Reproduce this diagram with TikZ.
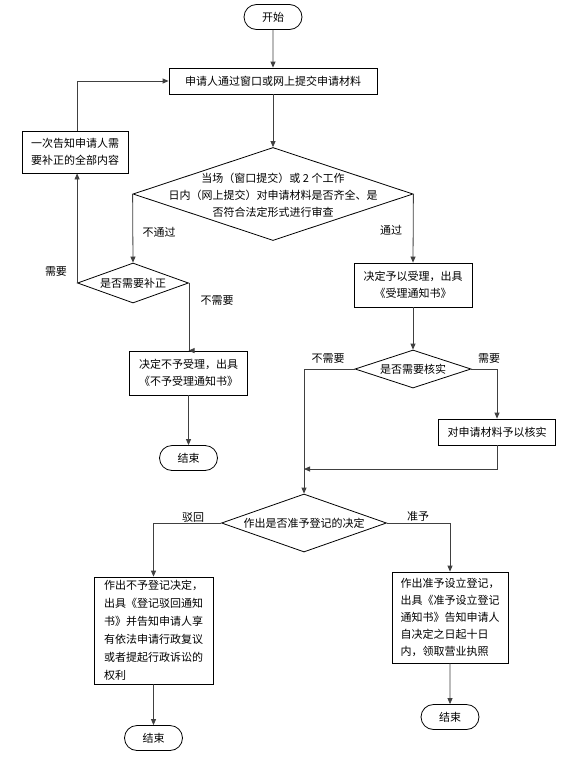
\documentclass[tikz,border=0pt]{standalone}
\usepackage{fontspec}
\setmainfont{Noto Sans CJK SC}
\usetikzlibrary{shapes.geometric,shapes.misc,arrows.meta}
\begin{document}
\begin{tikzpicture}[x=1pt,y=-1pt,
  every node/.style={font=\fontsize{11}{17}\selectfont},
  box/.style={draw=black, line width=0.8pt, inner sep=0pt, align=center},
  lbox/.style={draw=black, line width=0.8pt, inner sep=0pt, align=left},
  term/.style={draw=black, line width=0.8pt, rounded rectangle, minimum width=58pt, minimum height=25pt, inner sep=0pt},
  dia/.style={draw=black, line width=0.8pt, diamond, inner sep=0pt},
  txt/.style={inner sep=0pt, align=center},
  lab/.style={inner sep=0pt},
  conn/.style={draw=black!75, line width=0.8pt, -{Triangle[length=6pt,width=5pt]}},
  plain/.style={draw=black!75, line width=0.8pt}]
\useasboundingbox (0,0) rectangle (561,774);
\fill[white] (0,0) rectangle (561,774);

% nodes
\node[term] (start) at (273,17) {开始};
\node[box, minimum width=208pt, minimum height=26pt] (b1) at (273,81) {申请人通过窗口或网上提交申请材料};
\node[dia, minimum width=280pt, minimum height=93pt] (d1) at (273,194) {};
\node[txt] (d1t) at (273,195) {当场（窗口提交）或 2 个工作\\日内（网上提交）对申请材料是否齐全、是\\否符合法定形式进行审查};
\node[box, minimum width=106pt, minimum height=42pt] (notify) at (75,152) {一次告知申请人需\\要补正的全部内容};
\node[dia, minimum width=111pt, minimum height=40pt] (d2) at (133,283) {};
\node[txt] (d2t) at (133,283) {是否需要补正};
\node[box, minimum width=118pt, minimum height=44pt] (nb) at (188.5,373) {决定不予受理，出具\\《不予受理通知书》};
\node[term] (end1) at (188.5,458) {结束};

\node[box, minimum width=118pt, minimum height=44pt] (ac) at (413,285) {决定予以受理，出具\\《受理通知书》};
\node[dia, minimum width=116pt, minimum height=38pt] (d3) at (413,369) {};
\node[txt] (d3t) at (413,369) {是否需要核实};
\node[box, minimum width=117pt, minimum height=26pt] (ver) at (497,432) {对申请材料予以核实};
\coordinate (mrg) at (304,469);

\node[dia, minimum width=165pt, minimum height=58pt] (d4) at (304,523) {};
\node[txt] (d4t) at (304,523) {作出是否准予登记的决定};
\node[lbox, minimum width=119pt, minimum height=107pt, font=\fontsize{11}{18}\selectfont] (rej) at (153.5,630.5) {作出不予登记决定，\\出具《登记驳回通知\\书》并告知申请人享\\有依法申请行政复议\\或者提起行政诉讼的\\权利};
\node[term] (end2) at (153.5,738) {结束};
\node[lbox, minimum width=116pt, minimum height=91pt] (acc) at (450,617.5) {作出准予设立登记，\\出具《准予设立登记\\通知书》告知申请人\\自决定之日起十日\\内，领取营业执照};
\node[term] (end3) at (450,717) {结束};

% labels
\node[lab] (l1) at (159,232) {不通过};
\node[lab] (l2) at (56,272) {需要};
\node[lab] (l3) at (217,301) {不需要};
\node[lab] (l4) at (391,230) {通过};
\node[lab] (l5) at (328,359) {不需要};
\node[lab] (l6) at (489,359) {需要};
\node[lab] (l7) at (193,517) {驳回};
\node[lab] (l8) at (418,516) {准予};

% connectors
\draw[conn] (start) -- (b1);
\draw[conn] (b1) -- (d1.north);
\draw[conn] (d1.west) -- (d2.north);
\draw[conn] (d2.west) -- (d2.west |- notify.south);
\draw[conn] (notify.north -| d2.west) |- (b1.west);
\draw[conn] (d2.east) |- (nb.north);
\draw[conn] (nb) -- (end1);
\draw[conn] (d1.east) -- (ac.north);
\draw[conn] (ac) -- (d3.north);
\draw[conn] (d3.east) -| (ver.north);
\draw[conn] (ver.south) |- (mrg);
\draw[conn] (d3.west) -| (d4.north);
\draw[conn] (d4.west) -| (rej.north);
\draw[conn] (rej) -- (end2);
\draw[conn] (d4.east) -| (acc.north);
\draw[conn] (acc) -- (end3);
\end{tikzpicture}
\end{document}
